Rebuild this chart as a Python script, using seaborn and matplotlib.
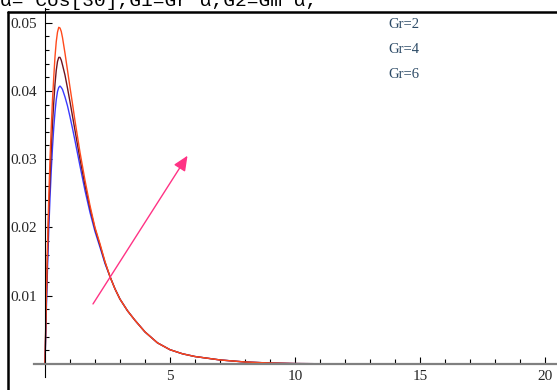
import numpy as np
import pandas as pd
import matplotlib.pyplot as plt
from matplotlib.lines import Line2D
from matplotlib.ticker import FixedLocator
import seaborn as sns

# values
x = [0, 0.05, 0.1, 0.15, 0.2, 0.25, 0.3, 0.35, 0.4, 0.45, 0.5, 0.55, 0.6, 0.65,
     0.7, 0.8, 0.9, 1.0, 1.1, 1.2, 1.4, 1.6, 1.8, 2.0, 2.2, 2.4, 2.6, 2.8, 3.0,
     3.3, 3.6, 4.0, 4.5, 5.0, 5.5, 6.0, 7.0, 8.0, 9.0, 10, 12, 15, 20]
tail = [0.0128, 0.0110, 0.0095, 0.0078, 0.0064, 0.0047, 0.0031, 0.0021, 0.0015,
        0.0011, 0.0006, 0.0003, 0.00015, 0.00007, 0.00002, 0.0, 0.0]
gr6 = [0, 0.0095, 0.0175, 0.0243, 0.0300, 0.0346, 0.0387, 0.0420, 0.0450, 0.0472,
       0.0486, 0.0493, 0.0492, 0.0487, 0.0478, 0.0455, 0.0430, 0.0405, 0.0381,
       0.0356, 0.0310, 0.0269, 0.0232, 0.0200, 0.0176, 0.0150] + tail
gr4 = [0, 0.0085, 0.0158, 0.0220, 0.0272, 0.0315, 0.0352, 0.0383, 0.0410, 0.0430,
       0.0443, 0.0449, 0.0449, 0.0445, 0.0438, 0.0423, 0.0404, 0.0384, 0.0363,
       0.0342, 0.0300, 0.0262, 0.0228, 0.0198, 0.0174, 0.0149] + tail
gr2 = [0, 0.0075, 0.0140, 0.0196, 0.0243, 0.0283, 0.0317, 0.0346, 0.0369, 0.0387,
       0.0399, 0.0405, 0.0407, 0.0405, 0.0402, 0.0391, 0.0378, 0.0362, 0.0345,
       0.0327, 0.0290, 0.0254, 0.0222, 0.0194, 0.0171, 0.0147] + tail
labels = ["Gr=2", "Gr=4", "Gr=6"]
colors = ["#3a3aff", "#6e1420", "#ff4a1c"]
xticks = [5, 10, 15, 20]
yticks = [0.01, 0.02, 0.03, 0.04, 0.05]

df = pd.DataFrame({
    "x": x * 3,
    "y": gr2 + gr4 + gr6,
    "Gr": [labels[0]] * len(x) + [labels[1]] * len(x) + [labels[2]] * len(x),
})

sns.set_style("white")
plt.rcParams["font.family"] = ["Liberation Serif", "DejaVu Serif"]

fig = plt.figure(figsize=(5.57, 3.90), dpi=100)
ax = fig.add_axes([0, 0, 1, 1])
ax.patch.set_alpha(0)

sns.lineplot(data=df, x="x", y="y", hue="Gr", palette=colors, linewidth=1.0,
             legend=False, ax=ax, sort=False)

ax.set_xlim(-1.8, 20.48)
ax.set_ylim(-0.0038, 0.0533)
ax.set_xlabel("")
ax.set_ylabel("")

for s in ["top", "right"]:
    ax.spines[s].set_visible(False)
ax.spines["left"].set_position(("data", 0))
ax.spines["bottom"].set_position(("data", 0))
ax.spines["left"].set_bounds(-0.0019, 0.0522)
ax.spines["bottom"].set_bounds(-0.44, 20.48)
ax.spines["left"].set_color("black")
ax.spines["left"].set_linewidth(0.8)
ax.spines["bottom"].set_color("#808080")
ax.spines["bottom"].set_linewidth(1.6)

ax.xaxis.set_major_locator(FixedLocator(xticks))
ax.xaxis.set_minor_locator(FixedLocator(np.arange(1, 21, 1)))
ax.yaxis.set_major_locator(FixedLocator(yticks))
ax.yaxis.set_minor_locator(FixedLocator(np.arange(0.002, 0.0521, 0.002)))
ax.set_xticklabels([str(t) for t in xticks])
ax.set_yticklabels([f"{t:.2f}" for t in yticks])
ax.tick_params(which="both", left=True, bottom=True)
ax.tick_params(axis="x", which="major", direction="in", length=5, width=0.8,
               color="black", labelsize=11, pad=4)
ax.tick_params(axis="x", which="minor", direction="in", length=3.5, width=0.8,
               color="black")
ax.tick_params(axis="y", which="major", direction="in", length=5, width=0.8,
               color="black", labelsize=11, pad=6)
ax.tick_params(axis="y", which="minor", direction="in", length=3, width=0.8,
               color="black")
ax.grid(False)

# legend text
for i, lab in enumerate(labels):
    ax.text(0.697, 1 - (24 + 25.5 * i) / 390, lab, transform=ax.transAxes,
            fontsize=10.5, color="#2c4a66", va="center", ha="left")

# pink arrow
ax.annotate("", xy=(5.7, 0.0305), xytext=(1.92, 0.0088),
            arrowprops=dict(arrowstyle="-|>,head_length=0.9,head_width=0.4",
                            color="#ff3385", lw=1.0, shrinkA=0, shrinkB=0))

# notebook cell frame and clipped title
fig.add_artist(Line2D([8 / 557, 8 / 557], [0, 1 - 12 / 390], color="black", lw=1.8))
fig.add_artist(Line2D([8 / 557, 1], [1 - 12 / 390, 1 - 12 / 390], color="black", lw=1.8))
fig.text(0.0, 1 - 6 / 390, "\u03b1= Cos[30],G1=Gr \u03b1,G2=Gm \u03b1,",
         family=["Liberation Mono", "DejaVu Sans Mono"], fontsize=14,
         va="baseline", ha="left", color="black")

fig.savefig("out.png", dpi=100)
